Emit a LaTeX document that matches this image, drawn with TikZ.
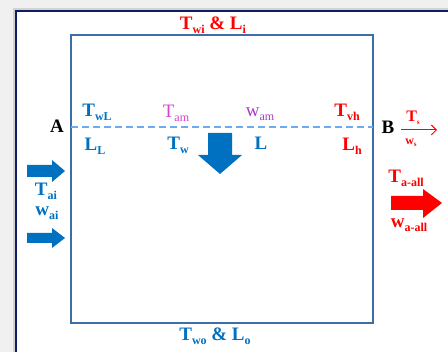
\documentclass[tikz,border=0pt]{standalone}
\usepackage{fontspec}
\setmainfont{Liberation Serif}
\usetikzlibrary{positioning, arrows.meta}
\definecolor{bluelbl}{RGB}{0,112,192}
\definecolor{redlbl}{RGB}{255,0,0}
\definecolor{tampink}{RGB}{214,70,204}
\definecolor{wampurple}{RGB}{168,60,200}
\definecolor{boxline}{RGB}{60,110,170}
\definecolor{dashblue}{RGB}{110,170,240}
\definecolor{framenavy}{RGB}{15,30,100}
\newcommand{\sbs}[1]{\raisebox{-0.22em}{\fontsize{12}{12}\selectfont #1}}
\newcommand{\tinysbs}[1]{\raisebox{-0.2em}{\fontsize{7}{7}\selectfont #1}}

\begin{document}
\begin{tikzpicture}[x=1pt, y=-1pt,
  lbl/.style={font=\bfseries\fontsize{19}{20}\selectfont, inner sep=0pt},
  thinlbl/.style={font=\fontsize{19}{20}\selectfont, inner sep=0pt},
  fatblue/.style={fill=bluelbl},
  fatred/.style={fill=redlbl}]
\useasboundingbox (0,0) rectangle (448,352);
% page shade and frame
\fill[gray!12] (0,0) rectangle (448,352);
\fill[gray!35] (13,8) rectangle (460,360);
\draw[framenavy, line width=1.6pt, fill=white] (16,11) rectangle (470,370);
% tower
\draw[boxline, line width=1.6pt] (71,35) rectangle (373,323);
\coordinate (dl) at (71,127);
\coordinate (dr) at (373,127);
\draw[dashblue, line width=1.2pt, dash pattern=on 7pt off 4pt] (dl) -- (dr);

% labels above and below the line
\node[lbl, redlbl] (twi) at (213,25) {T\sbs{wi} \& L\sbs{i}};
\node[lbl, bluelbl] (two) at (215,336) {T\sbs{wo} \& L\sbs{o}};
\node[lbl, bluelbl] (twl) at (97,112) {T\sbs{wL}};
\node[thinlbl, tampink] (tam) at (176,113) {T\sbs{am}};
\node[thinlbl, wampurple] (wam) at (260,114) {w\sbs{am}};
\node[lbl, redlbl] (tvh) at (347,112) {T\sbs{vh}};
\node[lbl, bluelbl] (lL) at (95,146) {L\sbs{L}};
\node[lbl, bluelbl] (tw) at (178,145) {T\sbs{w}};
\node[lbl, bluelbl] (lw) at (261,143) {L};
\node[lbl, redlbl] (lh) at (352,146) {L\sbs{h}};
\node[lbl] (pa) at (57,126) {A};
\node[lbl] (pb) at (388,127) {B};

% water falling
\fill[fatblue] (208,133) -- (232,133) -- (232,155) -- (242,155) -- (220,174)
  -- (198,155) -- (208,155) -- cycle;

% air in
\fill[fatblue] (27,165) -- (52,165) -- (52,160) -- (65,171) -- (52,182)
  -- (52,177) -- (27,177) -- cycle;
\fill[fatblue] (27,233) -- (52,233) -- (52,228) -- (65,238) -- (52,248)
  -- (52,243) -- (27,243) -- cycle;
\node[lbl, bluelbl] (tai) at (46,191) {T\sbs{ai}};
\node[lbl, bluelbl] (wai) at (47,213) {w\sbs{ai}};

% air out
\coordinate (sl) at (401,130);
\coordinate (sr) at (437,130);
\draw[redlbl, line width=1pt, -{Straight Barb[length=5pt]}] (sl) -- (sr);
\node[lbl, redlbl, font=\bfseries\fontsize{16}{17}\selectfont] (ts) at (413,118) {T\tinysbs{s}};
\node[lbl, redlbl, font=\bfseries\fontsize{12}{13}\selectfont] (ws) at (411,143) {w\tinysbs{s}};
\node[lbl, redlbl] (taall) at (406,178) {T\sbs{a-all}};
\fill[fatred] (391,196) -- (423,196) -- (423,189) -- (442,203) -- (423,218)
  -- (423,210) -- (391,210) -- cycle;
\node[lbl, redlbl] (waall) at (409,225) {w\sbs{a-all}};
\end{tikzpicture}
\end{document}
